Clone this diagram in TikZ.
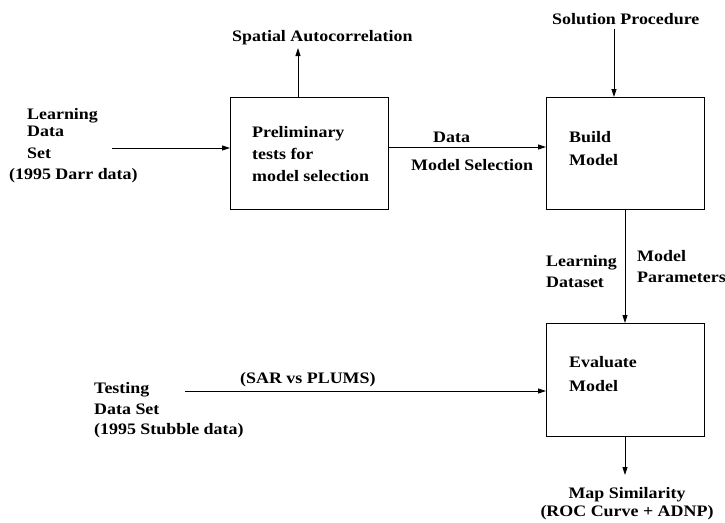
\documentclass[tikz,border=0pt]{standalone}
\usepackage{fontspec}
\setmainfont{Liberation Serif}[FakeStretch=1.12]
\usetikzlibrary{arrows.meta}
\tikzset{
  proc/.style={draw, line width=0.8pt, minimum width=158pt, minimum height=112pt, inner sep=0pt},
  lbl/.style={anchor=base west, inner sep=0pt, font=\fontsize{16}{19}\selectfont\bfseries},
  clbl/.style={anchor=base, inner sep=0pt, font=\fontsize{16}{19}\selectfont\bfseries},
  flow/.style={line width=0.8pt, -{Triangle[length=8pt,width=5pt]}}
}
\begin{document}
\begin{tikzpicture}[x=1pt,y=-1pt]
\useasboundingbox (0,0) rectangle (725,522);

% process boxes
\node[proc, anchor=north west] (prelim) at (230,97) {};
\node[proc, anchor=north west] (build) at (546,97) {};
\node[proc, anchor=north west, minimum height=113pt] (eval) at (546,323) {};

% box texts
\node[lbl] (p1) at (252,137) {Preliminary};
\node[lbl] (p2) at (252,159) {tests for};
\node[lbl] (p3) at (252,181) {model selection};
\node[lbl] (b1) at (569,142) {Build};
\node[lbl] (b2) at (569,165) {Model};
\node[lbl] (e1) at (569,367) {Evaluate};
\node[lbl] (e2) at (569,391) {Model};

% learning data input
\node[lbl] (l1) at (27,119) {Learning};
\node[lbl] (l2) at (27,136) {Data};
\node[lbl] (l3) at (27,158) {Set};
\node[lbl] (l4) at (9,179) {(1995 Darr data)};
\coordinate (lin) at (112,148);
\draw[flow] (lin) -- (lin -| prelim.west);

% spatial autocorrelation output
\node[lbl] (sa) at (232,41) {Spatial Autocorrelation};
\coordinate (saend) at (298,48);
\draw[flow] (saend |- prelim.north) -- (saend);

% prelim -> build
\coordinate (dstart) at (388,147);
\draw[flow] (dstart) -- (dstart -| build.west);
\node[lbl] (d1) at (433,142) {Data};
\node[lbl] (d2) at (411,170) {Model Selection};

% solution procedure input
\node[lbl] (sp) at (552,24) {Solution Procedure};
\coordinate (spstart) at (614,29);
\draw[flow] (spstart) -- (spstart |- build.north);

% build -> evaluate
\coordinate (bm) at (625,0);
\draw[flow] (bm |- build.south) -- (bm |- eval.north);
\node[lbl] (ld1) at (546,266) {Learning};
\node[lbl] (ld2) at (546,287) {Dataset};
\node[lbl] (mp1) at (637,261) {Model};
\node[lbl] (mp2) at (637,282) {Parameters};

% testing data input
\node[lbl] (t1) at (94,393) {Testing};
\node[lbl] (t2) at (94,414) {Data Set};
\node[lbl] (t3) at (94,434) {(1995 Stubble data)};
\coordinate (tin) at (185,391);
\draw[flow] (tin) -- (tin -| eval.west);
\node[lbl] (sar) at (240,383) {(SAR vs PLUMS)};

% evaluation output
\coordinate (mout) at (625,475);
\draw[flow] (mout |- eval.south) -- (mout);
\node[clbl] (ms1) at (627,498) {Map Similarity};
\node[clbl] (ms2) at (627,516) {(ROC Curve + ADNP)};
\end{tikzpicture}
\end{document}
